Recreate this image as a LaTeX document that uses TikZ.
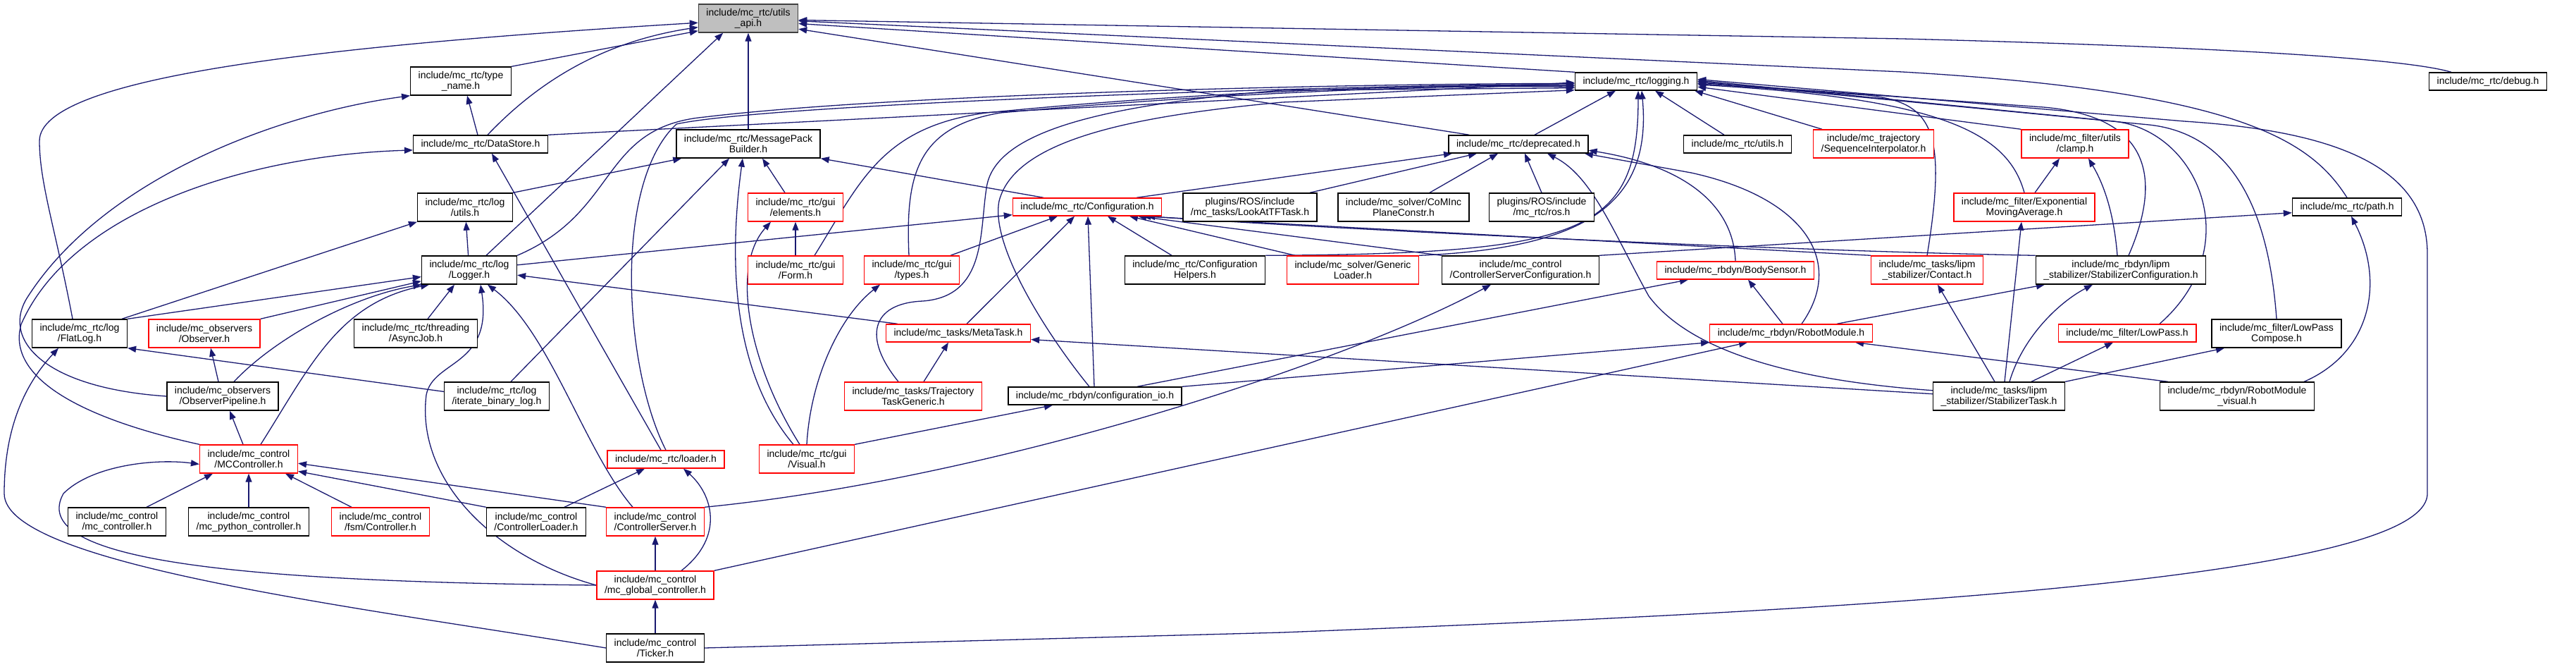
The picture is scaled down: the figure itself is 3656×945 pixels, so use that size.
\documentclass[tikz,border=0pt]{standalone}
\usepackage{fontspec}
\newfontfamily\dotfont{Liberation Sans}
\usetikzlibrary{arrows.meta}
\definecolor{edgeblue}{RGB}{25,25,112}
\definecolor{apigray}{RGB}{191,191,191}
\definecolor{apiborder}{RGB}{64,64,64}
\pgfdeclarelayer{back}
\pgfsetlayers{back,main}
\tikzset{
  hfile/.style={draw=black,fill=white,line width=1.4pt,inner xsep=11pt,inner ysep=0pt,
    minimum height=25pt,align=center,font=\dotfont\fontsize{14}{15}\selectfont},
  twoline/.style={minimum height=40pt},
  redfile/.style={hfile,draw=red},
  dep/.style={draw=edgeblue,line width=1.3pt,-{Triangle[length=12pt,width=9pt]}},
}
\begin{document}
\begin{tikzpicture}[x=1pt,y=-1pt]
\useasboundingbox (0,0) rectangle (3656,945);
% files, one row per rank
\node[hfile,twoline,fill=apigray,draw=apiborder] (api) at (1062,26) {include/mc\_rtc/utils\\\_api.h};
\node[hfile,twoline] (tname) at (654,115) {include/mc\_rtc/type\\\_name.h};
\node[hfile] (logging) at (2322,115.5) {include/mc\_rtc/logging.h};
\node[hfile] (debug) at (3531,115.5) {include/mc\_rtc/debug.h};
\node[hfile] (datastore) at (682,204.5) {include/mc\_rtc/DataStore.h};
\node[hfile,twoline] (msgpack) at (1062,204) {include/mc\_rtc/MessagePack\\Builder.h};
\node[hfile] (deprecated) at (2155,204.5) {include/mc\_rtc/deprecated.h};
\node[hfile] (rtcutils) at (2466,204.5) {include/mc\_rtc/utils.h};
\node[redfile,twoline] (seqinterp) at (2659,204) {include/mc\_trajectory\\/SequenceInterpolator.h};
\node[redfile,twoline] (clamp) at (2945,204) {include/mc\_filter/utils\\/clamp.h};
\node[hfile,twoline] (logutils) at (660,294) {include/mc\_rtc/log\\/utils.h};
\node[redfile,twoline] (elements) at (1129,294) {include/mc\_rtc/gui\\/elements.h};
\node[redfile] (config) at (1543,293.5) {include/mc\_rtc/Configuration.h};
\node[hfile,twoline] (lookat) at (1774,294) {plugins/ROS/include\\/mc\_tasks/LookAtTFTask.h};
\node[hfile,twoline] (cominc) at (1992,294) {include/mc\_solver/CoMInc\\PlaneConstr.h};
\node[hfile,twoline] (rosplug) at (2188,294) {plugins/ROS/include\\/mc\_rtc/ros.h};
\node[redfile,twoline] (expavg) at (2873,294) {include/mc\_filter/Exponential\\MovingAverage.h};
\node[hfile] (rtcpath) at (3331,293.5) {include/mc\_rtc/path.h};
\node[hfile,twoline] (logger) at (666,383) {include/mc\_rtc/log\\/Logger.h};
\node[redfile,twoline] (form) at (1129,383) {include/mc\_rtc/gui\\/Form.h};
\node[redfile,twoline] (guitypes) at (1294,383) {include/mc\_rtc/gui\\/types.h};
\node[hfile,twoline] (confhelp) at (1696,383) {include/mc\_rtc/Configuration\\Helpers.h};
\node[redfile,twoline] (genloader) at (1920,383) {include/mc\_solver/Generic\\Loader.h};
\node[hfile,twoline] (srvconf) at (2158,383) {include/mc\_control\\/ControllerServerConfiguration.h};
\node[redfile] (bodysensor) at (2463,383.5) {include/mc\_rbdyn/BodySensor.h};
\node[redfile,twoline] (contact) at (2735,383) {include/mc\_tasks/lipm\\\_stabilizer/Contact.h};
\node[hfile,twoline] (stabconf) at (3010,383) {include/mc\_rbdyn/lipm\\\_stabilizer/StabilizerConfiguration.h};
\node[hfile,twoline] (flatlog) at (113,473) {include/mc\_rtc/log\\/FlatLog.h};
\node[redfile,twoline] (observer) at (290,473) {include/mc\_observers\\/Observer.h};
\node[hfile,twoline] (asyncjob) at (590,473) {include/mc\_rtc/threading\\/AsyncJob.h};
\node[redfile] (metatask) at (1360,472.5) {include/mc\_tasks/MetaTask.h};
\node[redfile] (robotmod) at (2542,472.5) {include/mc\_rbdyn/RobotModule.h};
\node[redfile] (lowpass) at (3019,472.5) {include/mc\_filter/LowPass.h};
\node[hfile,twoline] (lpcompose) at (3231,473) {include/mc\_filter/LowPass\\Compose.h};
\node[hfile,twoline] (obspipe) at (316,562) {include/mc\_observers\\/ObserverPipeline.h};
\node[hfile,twoline] (binlog) at (705,562) {include/mc\_rtc/log\\/iterate\_binary\_log.h};
\node[redfile,twoline] (trajtask) at (1296,562) {include/mc\_tasks/Trajectory\\TaskGeneric.h};
\node[hfile] (confio) at (1554,561.5) {include/mc\_rbdyn/configuration\_io.h};
\node[hfile,twoline] (stabtask) at (2837,562) {include/mc\_tasks/lipm\\\_stabilizer/StabilizerTask.h};
\node[hfile,twoline] (rmvisual) at (3175,562) {include/mc\_rbdyn/RobotModule\\\_visual.h};
\node[redfile,twoline] (mcctl) at (353,651) {include/mc\_control\\/MCController.h};
\node[redfile] (loader) at (945,651.5) {include/mc\_rtc/loader.h};
\node[redfile,twoline] (visual) at (1145,651) {include/mc\_rtc/gui\\/Visual.h};
\node[hfile,twoline] (mcc) at (166,740) {include/mc\_control\\/mc\_controller.h};
\node[hfile,twoline] (pyctl) at (353,740) {include/mc\_control\\/mc\_python\_controller.h};
\node[redfile,twoline] (fsmctl) at (540,740) {include/mc\_control\\/fsm/Controller.h};
\node[hfile,twoline] (ctlloader) at (761,740) {include/mc\_control\\/ControllerLoader.h};
\node[redfile,twoline] (ctlserver) at (930,740) {include/mc\_control\\/ControllerServer.h};
\node[redfile,twoline] (globalctl) at (930,830) {include/mc\_control\\/mc\_global\_controller.h};
\node[hfile,twoline] (ticker) at (930,919) {include/mc\_control\\/Ticker.h};
\begin{pgfonlayer}{back}
% into utils_api.h
\draw[dep] (tname.north east) -- (api.194);
\draw[dep] ([xshift=10pt]datastore.north) .. controls (760,120) and (850,60) .. (api.190);
\draw[dep] ([xshift=-10pt]flatlog.north) .. controls (80,330) and (56,260) .. (56,200) .. controls (56,110) and (450,65) .. (api.185);
\draw[dep] ([xshift=24pt]logger.north) -- (api.210);
\draw[dep] (msgpack) -- (api);
\draw[dep] (logging.north west) -- (api.-6);
\draw[dep] ([xshift=30pt]deprecated.north west) -- (api.-12);
\draw[dep] ([xshift=32pt]debug.north west) .. controls (3420,85) and (3200,68) .. (2700,55) -- (api.-2);
\draw[dep] (rtcpath.north) .. controls (3280,200) and (3180,130) .. (2700,102) -- (api.-3);
% into logging.h
\draw[dep] (datastore.north east) -- (logging.181);
\draw[dep] (logger.north east) .. controls (880,300) and (850,180) .. (1000,166) .. controls (1300,130) and (2000,118) .. (logging.182);
\draw[dep] (loader.north) .. controls (885,520) and (870,260) .. (960,176) .. controls (1100,145) and (2000,118) .. (logging.183);
\draw[dep] ([xshift=27pt]form.north) .. controls (1220,260) and (1250,180) .. (1400,160) .. controls (1700,130) and (2000,120) .. (logging.184);
\draw[dep] ([xshift=-4pt]guitypes.north) .. controls (1285,250) and (1300,180) .. (1420,160) .. controls (1700,135) and (2000,120) .. (logging.185);
\draw[dep] ([xshift=-21pt]trajtask.north) .. controls (1225,480) and (1235,430) .. (1310,427) .. controls (1400,420) and (1390,330) .. (1400,267) .. controls (1410,190) and (1550,150) .. (1820,128) -- (logging.186);
\draw[dep] ([xshift=-8pt]confio.north) .. controls (1490,480) and (1405,350) .. (1418,285) .. controls (1440,200) and (1600,165) .. (1820,145) -- (logging.188);
\draw[dep] ([xshift=23pt]deprecated.north) -- ([xshift=-29pt]logging.south);
\draw[dep] ([xshift=-19pt]rtcutils.north) -- ([xshift=27pt]logging.south);
\draw[dep] ([xshift=-73pt]seqinterp.north) -- ([xshift=-4pt]logging.south east);
\draw[dep] (confhelp.north east) .. controls (2250,360) and (2325,330) .. ([xshift=3pt]logging.south);
\draw[dep] (genloader.north east) .. controls (2250,352) and (2345,290) .. ([xshift=8pt]logging.south);
\draw[dep] (clamp.north west) -- (logging.-5);
\draw[dep] (expavg.north) .. controls (2850,190) and (2760,140) .. (logging.-3);
\draw[dep] (contact.north) .. controls (2765,180) and (2740,145) .. (2650,135) -- (logging.-2);
\draw[dep] ([xshift=11pt]stabconf.north) .. controls (3070,250) and (3050,165) .. (2900,152) -- (logging.-1);
\draw[dep] ([xshift=46pt]lowpass.north) .. controls (3190,350) and (3120,185) .. (3000,172) -- (logging.1);
\draw[dep] (lpcompose.north) .. controls (3220,300) and (3170,190) .. (3050,177) -- (logging.0);
\draw[dep] (ticker.east) -- (1820,897) .. controls (2500,870) and (3445,830) .. (3445,700) -- (3445,360) .. controls (3445,230) and (3300,185) .. (3100,172) -- (logging.2);
% into deprecated.h
\draw[dep] ([xshift=70pt]config.north) -- ([xshift=-94pt]deprecated.south);
\draw[dep] ([xshift=85pt]lookat.north) -- ([xshift=-59pt]deprecated.south);
\draw[dep] ([xshift=37pt]cominc.north) -- ([xshift=-29pt]deprecated.south);
\draw[dep] (rosplug.north) -- ([xshift=9pt]deprecated.south);
\draw[dep] (stabtask.175) .. controls (2550,540) and (2400,500) .. (2340,420) .. controls (2290,330) and (2260,250) .. ([xshift=41pt]deprecated.south);
\draw[dep] (bodysensor.north) .. controls (2460,290) and (2390,235) .. (deprecated.-5);
\draw[dep] ([xshift=15pt]robotmod.north) .. controls (2620,370) and (2560,280) .. (2400,245) -- (deprecated.-8);
% into Configuration.h
\draw[dep] ([xshift=55pt]guitypes.north) -- ([xshift=-42pt]config.south);
\draw[dep] ([xshift=12pt]metatask.north) -- ([xshift=-18pt]config.south);
\draw[dep] ([xshift=-1pt]confio.north) -- ([xshift=1pt]config.south);
\draw[dep] ([xshift=-33pt]confhelp.north) -- ([xshift=29pt]config.south);
\draw[dep] ([xshift=-82pt]genloader.north) -- ([xshift=60pt]config.south);
\draw[dep] (srvconf.north west) -- ([xshift=72pt]config.south);
\draw[dep] (contact.north west) -- ([xshift=-28pt]config.south east);
\draw[dep] (stabconf.north west) .. controls (2500,355) and (1900,325) .. ([xshift=-22pt]config.south east);
\draw[dep] (logger.6) -- (config.186);
% into MessagePackBuilder.h, gui headers
\draw[dep] (logutils.north east) -- ([xshift=8pt]msgpack.south west);
\draw[dep] ([xshift=20pt]binlog.north) -- ([xshift=-27pt]msgpack.south);
\draw[dep] ([xshift=-19pt]visual.north) .. controls (1050,540) and (1030,400) .. ([xshift=-8pt]msgpack.south);
\draw[dep] ([xshift=-15pt]elements.north) -- ([xshift=20pt]msgpack.south);
\draw[dep] ([xshift=-62pt]config.north) -- (msgpack.south east);
\draw[dep] (form) -- (elements);
\draw[dep] ([xshift=-10pt]visual.north) .. controls (1065,520) and (1035,380) .. ([xshift=-35pt]elements.south);
\draw[dep] (visual.north) .. controls (1150,540) and (1190,450) .. ([xshift=-45pt]guitypes.south);
\draw[dep] (visual.north east) -- ([xshift=-60pt]confio.south);
% mc_rbdyn, mc_filter, lipm
\draw[dep] ([xshift=60pt]confio.north) -- ([xshift=-67pt]bodysensor.south);
\draw[dep] ([xshift=-12pt]robotmod.north) -- ([xshift=18pt]bodysensor.south);
\draw[dep] (confio.north east) -- (robotmod.south west);
\draw[dep] (globalctl.north east) -- ([xshift=-62pt]robotmod.south);
\draw[dep] ([xshift=12pt]rmvisual.north west) -- ([xshift=91pt]robotmod.south);
\draw[dep] ([xshift=65pt]robotmod.north) -- ([xshift=-108pt]stabconf.south);
\draw[dep] ([xshift=-6pt]stabtask.north) -- ([xshift=15pt]contact.south);
\draw[dep] ([xshift=8pt]stabtask.north) -- ([xshift=-4pt]expavg.south);
\draw[dep] ([xshift=15pt]stabtask.north) .. controls (2870,480) and (2920,430) .. ([xshift=-40pt]stabconf.south);
\draw[dep] ([xshift=46pt]stabtask.north) -- ([xshift=-20pt]lowpass.south);
\draw[dep] (stabtask.north east) -- ([xshift=-74pt]lpcompose.south);
\draw[dep] (stabtask.178) -- (metatask.-5);
\draw[dep] ([xshift=15pt]expavg.north) -- ([xshift=-22pt]clamp.south);
\draw[dep] ([xshift=-5pt]stabconf.north) .. controls (3000,300) and (2985,260) .. ([xshift=19pt]clamp.south);
\draw[dep] (srvconf.north east) -- (rtcpath.186);
\draw[dep] ([xshift=-15pt]rmvisual.north east) .. controls (3365,500) and (3385,400) .. ([xshift=6pt]rtcpath.south);
% tasks
\draw[dep] ([xshift=15pt]trajtask.north) -- ([xshift=-14pt]metatask.south);
\draw[dep] ([xshift=17pt]metatask.north west) -- (logger.-6);
\draw[dep] (ctlserver.north east) .. controls (1400,680) and (1900,520) .. ([xshift=-42pt]srvconf.south);
% into log/Logger.h and friends
\draw[dep] (flatlog.north east) -- (logger.188);
\draw[dep] (observer.north east) -- (logger.193);
\draw[dep] ([xshift=16pt]obspipe.north) .. controls (390,480) and (500,420) .. (logger.197);
\draw[dep] ([xshift=17pt]asyncjob.north) -- ([xshift=-21pt]logger.south);
\draw[dep] (globalctl.west) .. controls (700,790) and (590,680) .. (605,560) .. controls (615,510) and (700,520) .. ([xshift=16pt]logger.south);
\draw[dep] ([xshift=-32pt]ctlserver.north) .. controls (830,640) and (780,470) .. ([xshift=26pt]logger.south);
\draw[dep] (logger) -- (logutils);
\draw[dep] ([xshift=60pt]flatlog.north) -- (logutils.south west);
\draw[dep] (binlog.175) -- (flatlog.south east);
\draw[dep] (ticker.west) .. controls (500,860) and (6,800) .. (6,700) .. controls (6,600) and (40,540) .. ([xshift=-30pt]flatlog.south);
\draw[dep] ([xshift=-6pt]obspipe.north) -- ([xshift=9pt]observer.south);
\draw[dep] (obspipe.west) .. controls (60,550) and (0,480) .. (40,420) .. controls (150,250) and (400,160) .. (tname.south west);
% mc_control
\draw[dep] (mcctl.north west) .. controls (100,590) and (10,530) .. (30,460) .. controls (100,300) and (350,220) .. (datastore.185);
\draw[dep] ([xshift=-8pt]mcctl.north) -- ([xshift=10pt]obspipe.south);
\draw[dep] ([xshift=17pt]mcctl.north) .. controls (440,520) and (480,430) .. (logger.200);
\draw[dep] (globalctl.west) .. controls (300,825) and (40,790) .. (90,700) .. controls (130,660) and (220,650) .. (mcctl.186);
\draw[dep] ([xshift=42pt]mcc.north) -- ([xshift=-51pt]mcctl.south);
\draw[dep] (pyctl) -- (mcctl);
\draw[dep] ([xshift=-41pt]fsmctl.north) -- ([xshift=52pt]mcctl.south);
\draw[dep] (ctlloader.north west) -- (mcctl.-14);
\draw[dep] (ctlserver.north west) -- (mcctl.-5);
\draw[dep] ([xshift=40pt]ctlloader.north) -- ([xshift=-30pt]loader.south);
\draw[dep] ([xshift=37pt]globalctl.north) .. controls (1030,760) and (1010,700) .. ([xshift=25pt]loader.south);
\draw[dep] (globalctl) -- (ctlserver);
\draw[dep] (ticker) -- (globalctl);
\draw[dep] ([xshift=-7pt]loader.north) -- ([xshift=16pt]datastore.south);
\draw[dep] ([xshift=-4pt]datastore.north) -- ([xshift=9pt]tname.south);
\end{pgfonlayer}
\end{tikzpicture}
\end{document}
